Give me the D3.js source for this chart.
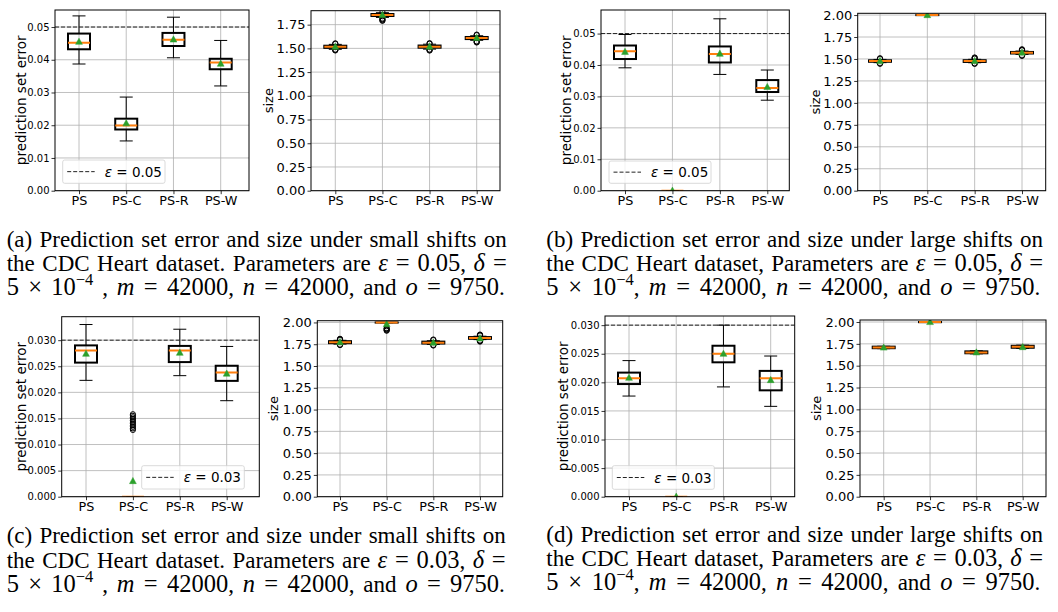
<!DOCTYPE html>
<html><head><meta charset="utf-8">
<script src="https://cdn.jsdelivr.net/npm/d3@7"></script>
<style>body{margin:0;background:#fff} svg{display:block} text{white-space:pre}</style>
</head><body><svg id="c" width="1058" height="612"></svg>
<script>
const categories = ["PS", "PS-C", "PS-R", "PS-W"];
// each row: [whiskerLow, q1, median, q3, whiskerHigh, mean] for PS, PS-C, PS-R, PS-W
const errA = [
  [0.0387, 0.0432, 0.0452, 0.0480, 0.0534, 0.0455],
  [0.0152, 0.0187, 0.0199, 0.0220, 0.0286, 0.0206],
  [0.0406, 0.0442, 0.0461, 0.0482, 0.0530, 0.0462],
  [0.0320, 0.0371, 0.0392, 0.0403, 0.0459, 0.0388]
];
const sizeA = [
  [1.490, 1.505, 1.517, 1.528, 1.542, 1.517],
  [1.826, 1.841, 1.852, 1.862, 1.876, 1.853],
  [1.492, 1.507, 1.518, 1.530, 1.544, 1.519],
  [1.585, 1.598, 1.609, 1.620, 1.633, 1.610]
];
const sizeA_out = [
  [1.478, 1.483, 1.486, 1.548, 1.553],
  [1.790, 1.798, 1.806, 1.814, 1.882],
  [1.477, 1.482, 1.487, 1.549, 1.555],
  [1.562, 1.567, 1.573, 1.640, 1.645]
];
const errB = [
  [0.0391, 0.0419, 0.0444, 0.0462, 0.0497, 0.0442],
  [0, 0, 0, 0, 0, 0],
  [0.0370, 0.0408, 0.0435, 0.0459, 0.0547, 0.0436],
  [0.0288, 0.0314, 0.0327, 0.0352, 0.0384, 0.0330]
];
const sizeB = [
  [1.458, 1.468, 1.476, 1.485, 1.495, 1.477],
  [1.998, 1.999, 2.000, 2.000, 2.000, 2.000],
  [1.457, 1.466, 1.476, 1.486, 1.496, 1.477],
  [1.552, 1.562, 1.571, 1.580, 1.590, 1.573]
];
const sizeB_out = [
  [1.445, 1.450, 1.503, 1.508],
  [],
  [1.444, 1.450, 1.505, 1.512, 1.517],
  [1.535, 1.541, 1.600, 1.605, 1.610]
];
const errC = [
  [0.0223, 0.0257, 0.0280, 0.0290, 0.0330, 0.0274],
  [0, 0, 0, 0, 0, 0.0030],
  [0.0232, 0.0258, 0.0280, 0.0289, 0.0321, 0.0276],
  [0.0184, 0.0222, 0.0238, 0.0251, 0.0288, 0.0236]
];
const errC_out = [
  [],
  [0.0128, 0.0131, 0.0134, 0.0137, 0.0140, 0.0143, 0.0146, 0.0149, 0.0152, 0.0155, 0.0158],
  [],
  []
];
const sizeC = [
  [1.752, 1.762, 1.772, 1.785, 1.795, 1.774],
  [1.996, 1.998, 2.000, 2.000, 2.000, 1.981],
  [1.748, 1.758, 1.768, 1.780, 1.790, 1.768],
  [1.803, 1.812, 1.822, 1.832, 1.842, 1.818]
];
const sizeC_out = [
  [1.740, 1.745, 1.802, 1.807, 1.812],
  [1.905, 1.912, 1.920, 1.928, 1.935],
  [1.735, 1.741, 1.798, 1.804],
  [1.780, 1.786, 1.792, 1.850, 1.856, 1.861]
];
const errD = [
  [0.0176, 0.0197, 0.0207, 0.0217, 0.0238, 0.0208],
  [0, 0, 0, 0, 0, 0],
  [0.0192, 0.0235, 0.0250, 0.0264, 0.0300, 0.0250],
  [0.0158, 0.0186, 0.0207, 0.0220, 0.0246, 0.0204]
];
const sizeD = [
  [1.695, 1.700, 1.708, 1.718, 1.722, 1.708],
  [1.997, 1.998, 2.000, 2.000, 2.000, 2.000],
  [1.636, 1.642, 1.652, 1.664, 1.670, 1.652],
  [1.698, 1.705, 1.716, 1.728, 1.735, 1.713]
];
const errTicks05 = [0, 0.01, 0.02, 0.03, 0.04, 0.05];
const errTicks03 = [0, 0.005, 0.010, 0.015, 0.020, 0.025, 0.030];
const sizeTicksA = [0, 0.25, 0.5, 0.75, 1.0, 1.25, 1.5, 1.75];
const sizeTicks = [0, 0.25, 0.5, 0.75, 1.0, 1.25, 1.5, 1.75, 2.0];
const epsLabels = ["0.05", "0.03"];

// caption segments: i = italic math letter, m = upright math, sup = superscript
const captionA = [
  [{t: "(a) Prediction set error and size under small shifts on"}],
  [{t: "the CDC Heart dataset. Parameters are "}, {t: "ε", i: 1}, {t: " = 0.05", m: 1}, {t: ", "}, {t: "δ", i: 1}, {t: " =", m: 1}],
  [{t: "5 × 10", m: 1}, {t: "−4", sup: 1}, {t: " , "}, {t: "m", i: 1}, {t: " = 42000", m: 1}, {t: ", "}, {t: "n", i: 1}, {t: " = 42000", m: 1}, {t: ", and "}, {t: "o", i: 1}, {t: " = 9750", m: 1}, {t: "."}]
];
const captionB = [
  [{t: "(b) Prediction set error and size under large shifts on"}],
  [{t: "the CDC Heart dataset, Parameters are "}, {t: "ε", i: 1}, {t: " = 0.05", m: 1}, {t: ", "}, {t: "δ", i: 1}, {t: " =", m: 1}],
  [{t: "5 × 10", m: 1}, {t: "−4", sup: 1}, {t: ", "}, {t: "m", i: 1}, {t: " = 42000", m: 1}, {t: ", "}, {t: "n", i: 1}, {t: " = 42000", m: 1}, {t: ", and "}, {t: "o", i: 1}, {t: " = 9750", m: 1}, {t: "."}]
];
const captionC = [
  [{t: "(c) Prediction set error and size under small shifts on"}],
  [{t: "the CDC Heart dataset. Parameters are "}, {t: "ε", i: 1}, {t: " = 0.03", m: 1}, {t: ", "}, {t: "δ", i: 1}, {t: " =", m: 1}],
  [{t: "5 × 10", m: 1}, {t: "−4", sup: 1}, {t: " , "}, {t: "m", i: 1}, {t: " = 42000", m: 1}, {t: ", "}, {t: "n", i: 1}, {t: " = 42000", m: 1}, {t: ", and "}, {t: "o", i: 1}, {t: " = 9750", m: 1}, {t: "."}]
];
const captionD = [
  [{t: "(d) Prediction set error and size under large shifts on"}],
  [{t: "the CDC Heart dataset, Parameters are "}, {t: "ε", i: 1}, {t: " = 0.03", m: 1}, {t: ", "}, {t: "δ", i: 1}, {t: " =", m: 1}],
  [{t: "5 × 10", m: 1}, {t: "−4", sup: 1}, {t: ", "}, {t: "m", i: 1}, {t: " = 42000", m: 1}, {t: ", "}, {t: "n", i: 1}, {t: " = 42000", m: 1}, {t: ", and "}, {t: "o", i: 1}, {t: " = 9750", m: 1}, {t: "."}]
];

const svg = d3.select("#c");
const FONT = "DejaVu Sans";
const none4 = [[], [], [], []];

const panels = [
  {box: [55, 10, 249, 190.7], xr: [79, 220.7], ymax: 0.0552, ticks: errTicks05, fmt: ".2f", stats: errA, out: none4, eps: 0.05, epsLabel: epsLabels[0], legend: [62.7, 160, 165, 183.3], ylabel: "prediction set error", labelX: 20.7, ytf: 10},
  {box: [311, 10.7, 500, 190.7], xr: [335.3, 476.7], ymax: 1.897, ticks: sizeTicksA, fmt: ".2f", stats: sizeA, out: sizeA_out, ylabel: "size", labelX: 268.3, ytf: 13},
  {box: [601, 10, 789.3, 190.7], xr: [625, 767.3], ymax: 0.0575, ticks: errTicks05, fmt: ".2f", stats: errB, out: none4, eps: 0.05, epsLabel: epsLabels[0], legend: [609, 161, 711, 183.3], ylabel: "prediction set error", labelX: 566, ytf: 10},
  {box: [857.7, 13.3, 1045.7, 190.7], xr: [880, 1022], ymax: 2.02, ticks: sizeTicks, fmt: ".2f", stats: sizeB, out: sizeB_out, ylabel: "size", labelX: 815, ytf: 13},
  {box: [61.7, 316.7, 259.3, 496.7], xr: [86, 226.7], ymax: 0.0345, ticks: errTicks03, fmt: ".3f", stats: errC, out: errC_out, eps: 0.03, epsLabel: epsLabels[1], legend: [141.7, 465.7, 244.3, 489], ylabel: "prediction set error", labelX: 20.7, ytf: 10},
  {box: [317.3, 320.7, 502.7, 496.7], xr: [340, 480], ymax: 2.02, ticks: sizeTicks, fmt: ".2f", stats: sizeC, out: sizeC_out, ylabel: "size", labelX: 273.3, ytf: 13},
  {box: [605, 316, 794.7, 496.7], xr: [629, 770.7], ymax: 0.0316, ticks: errTicks03, fmt: ".3f", stats: errD, out: none4, eps: 0.03, epsLabel: epsLabels[1], legend: [612.3, 465.7, 714.3, 489.3], ylabel: "prediction set error", labelX: 563.3, ytf: 10},
  {box: [860, 320, 1046, 496.7], xr: [883.7, 1022.7], ymax: 2.023, ticks: sizeTicks, fmt: ".2f", stats: sizeD, out: none4, ylabel: "size", labelX: 816.7, ytf: 13}
];

panels.forEach((p, pi) => {
  const [L, T, R, B] = p.box;
  const x = d3.scalePoint().domain(categories).range(p.xr);
  const y = d3.scaleLinear().domain([0, p.ymax]).range([B, T]);
  const g = svg.append("g");
  const clipId = "clip" + pi;
  svg.append("clipPath").attr("id", clipId).append("rect")
    .attr("x", L).attr("y", T).attr("width", R - L).attr("height", B - T);

  g.selectAll(".hg").data(p.ticks).join("line")
    .attr("x1", L).attr("x2", R).attr("y1", d => y(d)).attr("y2", d => y(d))
    .attr("stroke", "#b0b0b0").attr("stroke-width", 0.8);
  g.selectAll(".vg").data(categories).join("line")
    .attr("x1", d => x(d)).attr("x2", d => x(d)).attr("y1", T).attr("y2", B)
    .attr("stroke", "#b0b0b0").attr("stroke-width", 0.8);

  const pg = g.append("g").attr("clip-path", `url(#${clipId})`);
  const bw = 22, cw = 13;
  categories.forEach((c, i) => {
    const s = p.stats[i];
    const cx = x(c);
    const [lo, q1, med, q3, hi, mean] = s;
    pg.append("line").attr("x1", cx).attr("x2", cx).attr("y1", y(lo)).attr("y2", y(q1)).attr("stroke", "#000").attr("stroke-width", 1);
    pg.append("line").attr("x1", cx).attr("x2", cx).attr("y1", y(q3)).attr("y2", y(hi)).attr("stroke", "#000").attr("stroke-width", 1);
    [lo, hi].forEach(v => pg.append("line").attr("x1", cx - cw / 2).attr("x2", cx + cw / 2).attr("y1", y(v)).attr("y2", y(v)).attr("stroke", "#000").attr("stroke-width", 1));
    pg.selectAll(null).data(p.out[i]).join("circle")
      .attr("cx", cx).attr("cy", d => y(d)).attr("r", 2.6)
      .attr("fill", "none").attr("stroke", "#000").attr("stroke-width", 1);
    pg.append("rect").attr("x", cx - bw / 2).attr("y", y(q3)).attr("width", bw).attr("height", Math.max(0, y(q1) - y(q3)))
      .attr("fill", "none").attr("stroke", "#000").attr("stroke-width", 2);
    pg.append("line").attr("x1", cx - bw / 2).attr("x2", cx + bw / 2).attr("y1", y(med)).attr("y2", y(med))
      .attr("stroke", "#ff7f0e").attr("stroke-width", 2);
    const my = y(mean);
    pg.append("path").attr("d", `M${cx},${my - 3.6}L${cx - 3.4},${my + 2.6}L${cx + 3.4},${my + 2.6}Z`)
      .attr("fill", "#2ca02c").attr("stroke", "#2ca02c").attr("stroke-width", 0.5);
  });

  if (p.eps !== undefined) {
    pg.append("line").attr("x1", L).attr("x2", R).attr("y1", y(p.eps)).attr("y2", y(p.eps))
      .attr("stroke", "#222").attr("stroke-width", 1).attr("stroke-dasharray", "4,2");
  }

  const ya = g.append("g").attr("transform", `translate(${L},0)`)
    .call(d3.axisLeft(y).tickValues(p.ticks).tickFormat(d3.format(p.fmt)).tickSize(3.5).tickPadding(2));
  ya.select(".domain").remove();
  ya.selectAll("text").attr("font-family", FONT).attr("font-size", p.ytf).attr("fill", "#000");
  ya.selectAll("line").attr("stroke", "#000").attr("stroke-width", 0.8);
  const xa = g.append("g").attr("transform", `translate(0,${B})`)
    .call(d3.axisBottom(x).tickSize(3.5).tickPadding(2));
  xa.select(".domain").remove();
  xa.selectAll("text").attr("font-family", FONT).attr("font-size", 12.8).attr("fill", "#000");
  xa.selectAll("line").attr("stroke", "#000").attr("stroke-width", 0.8);

  g.append("rect").attr("x", L).attr("y", T).attr("width", R - L).attr("height", B - T)
    .attr("fill", "none").attr("stroke", "#000").attr("stroke-width", 1);

  g.append("text").attr("transform", `translate(${p.labelX},${(T + B) / 2}) rotate(-90)`)
    .attr("text-anchor", "middle").attr("dominant-baseline", "central")
    .attr("font-family", FONT).attr("font-size", p.ylabel === "size" ? 13 : 13.5).attr("fill", "#000")
    .text(p.ylabel);

  if (p.legend) {
    const [lx0, ly0, lx1, ly1] = p.legend;
    g.append("rect").attr("x", lx0).attr("y", ly0).attr("width", lx1 - lx0).attr("height", ly1 - ly0)
      .attr("rx", 2).attr("fill", "#fff").attr("fill-opacity", 0.8).attr("stroke", "#d0d0d0").attr("stroke-width", 0.8);
    const cy = (ly0 + ly1) / 2;
    g.append("line").attr("x1", lx0 + 4.5).attr("x2", lx0 + 32).attr("y1", cy).attr("y2", cy)
      .attr("stroke", "#222").attr("stroke-width", 1).attr("stroke-dasharray", "4,2");
    const lt = g.append("text").attr("x", lx0 + 42).attr("y", cy).attr("dominant-baseline", "central")
      .attr("font-family", FONT).attr("font-size", 13.5).attr("fill", "#000");
    lt.append("tspan").attr("font-style", "italic").text("ε");
    lt.append("tspan").text(" = " + p.epsLabel);
  }
});

const caps = [
  {lines: captionA, x: 6.7, widths: [500, 500, 498], ys: [246.7, 271, 295.3]},
  {lines: captionB, x: 546.3, widths: [496.7, 496.7, 494], ys: [246.7, 271, 295.3]},
  {lines: captionC, x: 6.7, widths: [499, 499, 498], ys: [543.3, 568, 592.3]},
  {lines: captionD, x: 546.3, widths: [496.7, 496.7, 494], ys: [541.7, 566, 590.3]}
];
caps.forEach(cp => {
  cp.lines.forEach((segs, li) => {
    const t = svg.append("text").attr("x", cp.x).attr("y", cp.ys[li])
      .attr("font-family", "Liberation Serif").attr("font-size", 23).attr("fill", "#000");
    let supOn = false;
    segs.forEach(s => {
      const ts = t.append("tspan").text(s.t);
      if (s.i) ts.attr("font-style", "italic").attr("font-size", 24.5);
      if (s.m) ts.attr("font-size", 24.5);
      if (s.sup) { ts.attr("font-size", 16.5).attr("dy", -10); supOn = true; }
      else if (supOn) { ts.attr("dy", 10); supOn = false; }
    });
    const natural = t.node().getComputedTextLength();
    const nSpaces = segs.map(s => s.sup ? 0 : (s.t.match(/ /g) || []).length).reduce((a, b) => a + b, 0);
    if (nSpaces > 0) t.attr("word-spacing", (cp.widths[li] - natural) / nSpaces);
  });
});
</script>
</body></html>
